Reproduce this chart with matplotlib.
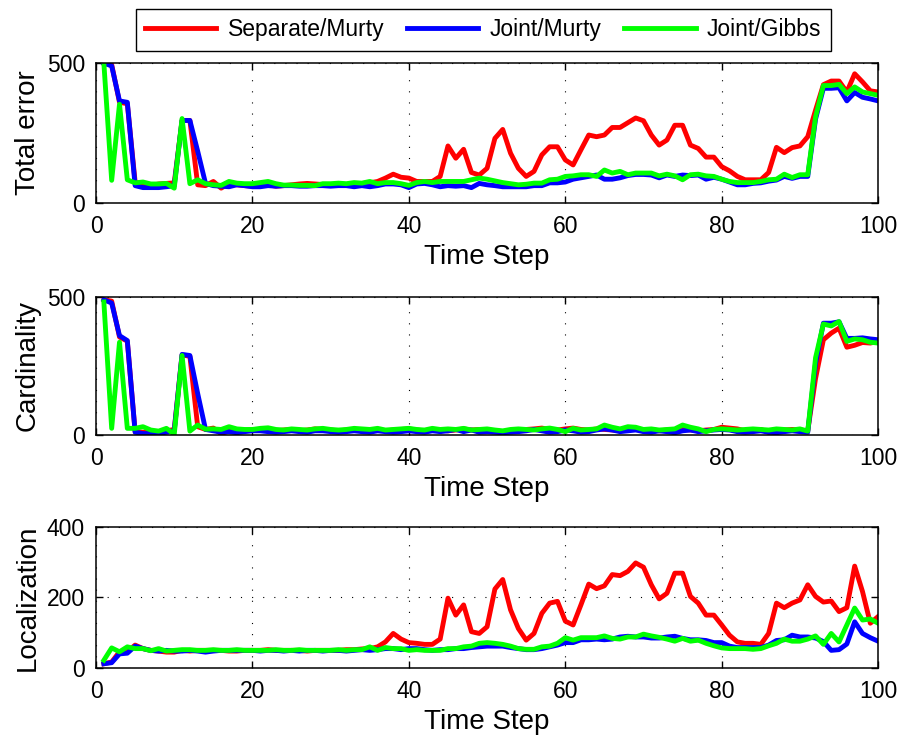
import numpy as np
import matplotlib; matplotlib.use("Agg")
import matplotlib.pyplot as plt

plt.rcParams["font.family"] = ["Liberation Sans", "DejaVu Sans"]

steps = np.arange(1, 101)
labels = ["Separate/Murty", "Joint/Murty", "Joint/Gibbs"]
colors = ["#ff0000", "#0000ff", "#00ff00"]

# total error
tot_sep = [500, 495, 360, 355, 75, 65, 62, 68, 70, 72,
           295, 295, 65, 62, 77, 53, 70, 65, 62, 60,
           62, 65, 60, 62, 65, 68, 70, 68, 66, 65,
           68, 66, 68, 70, 72, 77, 89, 103, 92, 89,
           77, 77, 77, 95, 204, 160, 192, 109, 100, 124,
           231, 263, 178, 124, 95, 113, 172, 201, 201, 154,
           136, 190, 243, 237, 243, 270, 270, 287, 304, 294,
           243, 207, 225, 278, 278, 207, 195, 164, 164, 130,
           115, 95, 83, 83, 83, 109, 199, 180, 198, 204,
           237, 332, 423, 436, 436, 397, 462, 433, 401, 397]
tot_jm = [500, 490, 365, 360, 62, 55, 55, 55, 58, 62,
          295, 295, 185, 70, 62, 60, 58, 65, 62, 58,
          58, 62, 60, 62, 62, 60, 60, 62, 62, 60,
          62, 62, 58, 62, 58, 62, 68, 68, 65, 55,
          68, 70, 65, 58, 62, 60, 62, 55, 70, 65,
          62, 58, 58, 58, 58, 62, 62, 72, 72, 75,
          85, 90, 95, 100, 85, 85, 90, 98, 102, 102,
          100, 90, 100, 95, 100, 98, 100, 85, 92, 85,
          75, 65, 65, 70, 72, 78, 82, 95, 88, 95,
          95, 300, 410, 410, 412, 365, 395, 378, 372, 365]
tot_jg = [500, 81, 353, 83, 72, 75, 68, 68, 70, 53,
          302, 69, 83, 69, 65, 63, 77, 71, 69, 69,
          73, 77, 69, 64, 64, 63, 63, 62, 69, 69,
          71, 69, 73, 71, 77, 69, 73, 73, 69, 63,
          73, 77, 73, 77, 77, 77, 77, 83, 89, 85,
          79, 73, 69, 65, 67, 71, 71, 83, 85, 95,
          97, 101, 101, 95, 118, 107, 113, 101, 107, 107,
          107, 97, 103, 97, 83, 101, 103, 97, 95, 85,
          77, 73, 73, 73, 77, 83, 85, 103, 91, 101,
          101, 308, 420, 420, 424, 391, 415, 397, 391, 385]

# cardinality
card_sep = [490, 485, 355, 340, 12, 10, 8, 10, 15, 20,
            290, 285, 30, 20, 25, 5, 15, 20, 15, 20,
            18, 22, 15, 18, 20, 15, 18, 22, 20, 18,
            15, 18, 20, 15, 18, 20, 15, 18, 20, 22,
            18, 15, 20, 18, 15, 18, 22, 18, 20, 18,
            15, 12, 15, 18, 20, 22, 25, 20, 18, 22,
            25, 20, 18, 22, 20, 18, 15, 20, 22, 18,
            20, 15, 18, 15, 20, 18, 15, 18, 20, 28,
            25, 22, 15, 18, 20, 10, 15, 18, 20, 18,
            15, 205, 345, 369, 387, 318, 325, 335, 333, 339]
card_jm = [490, 478, 360, 342, 10, 5, 5, 5, 10, 15,
           292, 288, 150, 20, 15, 10, 12, 8, 12, 15,
           15, 12, 10, 12, 15, 12, 10, 15, 15, 12,
           10, 12, 15, 12, 10, 15, 12, 10, 12, 15,
           12, 10, 15, 12, 15, 20, 12, 18, 10, 12,
           10, 8, 10, 12, 15, 20, 15, 10, 12, 18,
           15, 10, 12, 18, 22, 18, 12, 15, 18, 12,
           10, 15, 12, 8, 15, 18, 12, 15, 18, 20,
           18, 12, 10, 12, 15, 10, 8, 12, 15, 12,
           10, 260, 405, 405, 410, 350, 350, 352, 348, 345]
card_jg = [482, 24, 336, 24, 24, 30, 18, 14, 24, 2,
           288, 14, 36, 21, 22, 20, 30, 22, 20, 20,
           24, 26, 20, 18, 22, 20, 18, 22, 24, 20,
           18, 20, 24, 22, 20, 24, 18, 20, 22, 24,
           20, 18, 24, 20, 22, 20, 24, 18, 20, 22,
           18, 15, 20, 22, 20, 18, 22, 25, 20, 12,
           24, 18, 20, 22, 36, 28, 22, 30, 28, 20,
           22, 18, 20, 22, 36, 28, 22, 12, 20, 22,
           20, 18, 20, 22, 20, 18, 22, 20, 18, 22,
           14, 280, 402, 395, 411, 339, 348, 345, 336, 333]

# localization
loc_sep = [12, 17, 46, 46, 65, 55, 50, 48, 45, 45,
           50, 48, 50, 50, 50, 50, 48, 48, 50, 50,
           50, 52, 50, 50, 50, 50, 48, 50, 50, 50,
           50, 52, 52, 54, 55, 60, 74, 98, 82, 72,
           70, 67, 67, 82, 198, 150, 179, 103, 98, 117,
           224, 251, 165, 112, 79, 98, 155, 184, 189, 133,
           122, 179, 238, 225, 233, 265, 262, 274, 298, 286,
           236, 196, 212, 269, 269, 203, 184, 150, 150, 122,
           93, 74, 70, 70, 67, 98, 184, 171, 184, 193,
           236, 203, 187, 190, 160, 171, 289, 217, 127, 146]
loc_jm = [12, 15, 40, 42, 62, 55, 50, 48, 50, 48,
          48, 50, 48, 45, 48, 50, 50, 50, 50, 50,
          48, 50, 50, 48, 50, 48, 50, 50, 48, 50,
          50, 48, 50, 52, 50, 52, 55, 55, 52, 55,
          55, 52, 50, 52, 52, 55, 55, 58, 60, 62,
          62, 62, 58, 55, 52, 52, 55, 60, 65, 72,
          72, 80, 80, 82, 80, 82, 88, 90, 88, 88,
          85, 85, 88, 90, 84, 80, 80, 78, 72, 72,
          62, 58, 58, 58, 58, 65, 78, 80, 93, 88,
          88, 85, 75, 50, 52, 68, 131, 98, 86, 76]
loc_jg = [22, 57, 46, 60, 55, 55, 49, 55, 48, 50,
          52, 52, 50, 50, 52, 50, 50, 52, 50, 50,
          50, 50, 52, 50, 50, 52, 50, 50, 50, 50,
          52, 50, 52, 52, 60, 50, 58, 55, 55, 50,
          52, 50, 50, 50, 55, 55, 60, 62, 70, 72,
          70, 67, 62, 55, 53, 53, 60, 62, 70, 86,
          79, 86, 86, 86, 91, 84, 82, 88, 88, 96,
          91, 87, 82, 76, 84, 76, 79, 70, 63, 57,
          55, 55, 55, 53, 55, 63, 70, 82, 76, 76,
          82, 91, 67, 98, 74, 122, 170, 136, 139, 127]

panels = [("Total error", [tot_sep, tot_jm, tot_jg], [0, 500], [0, 500]),
          ("Cardinality", [card_sep, card_jm, card_jg], [0, 500], [0, 500]),
          ("Localization", [loc_sep, loc_jm, loc_jg], [0, 400], [0, 200, 400])]
rects = [[0.1067, 0.7242, 0.869, 0.190],
         [0.1067, 0.409, 0.869, 0.1875],
         [0.1067, 0.0924, 0.869, 0.1916]]

fig = plt.figure(figsize=(9, 7.36), dpi=100)
handles = []
for rect, (ylab, series, ylim, yt) in zip(rects, panels):
    ax = fig.add_axes(rect)
    for s, c, lab in zip(series, colors, labels):
        h, = ax.plot(steps, s, color=c, lw=3.5, label=lab)
        if len(handles) < 3:
            handles.append(h)
    ax.set_xlim(0, 100); ax.set_ylim(*ylim)
    ax.set_xticks([0, 20, 40, 60, 80, 100]); ax.set_yticks(yt)
    ax.grid(True, color="k", lw=0.8, linestyle=(0, (1, 9)))
    ax.tick_params(direction="in", top=True, right=True, labelsize=16.5, length=5, width=1)
    ax.tick_params(axis="x", pad=9)
    ax.tick_params(axis="y", pad=8)
    for sp in ax.spines.values():
        sp.set_linewidth(1.1)
    ax.set_xlabel("Time Step", fontsize=20, labelpad=4)
    ax.set_ylabel(ylab, fontsize=20, labelpad=4)

fig.legend(handles, labels, loc="upper center", bbox_to_anchor=(0.537, 1.003), ncol=3,
           fontsize=16.5, frameon=True, fancybox=False, edgecolor="k", framealpha=1,
           handlelength=3.1, columnspacing=1.0, handletextpad=0.5, borderpad=0.4)
fig.savefig("out.png")
